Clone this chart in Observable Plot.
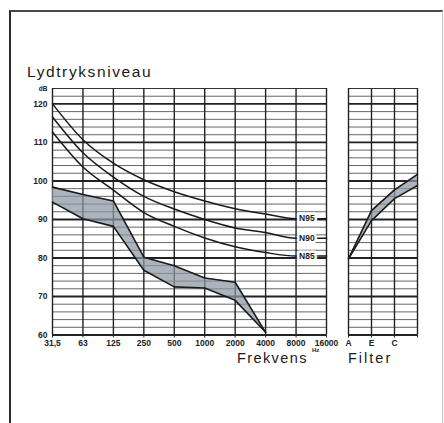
<!DOCTYPE html>
<html>
<head>
<meta charset="utf-8">
<script src="https://cdn.jsdelivr.net/npm/d3@7"></script>
<script src="https://cdn.jsdelivr.net/npm/@observablehq/plot@0.6"></script>
<style>
  html, body { margin: 0; padding: 0; background: #fff; }
  #wrap { position: relative; width: 444px; height: 423px; overflow: hidden; background: #fff;
          font-family: "Liberation Sans", Arial, Helvetica, sans-serif; color: #1a1a1a; }
  #wrap svg { position: absolute; left: 0; top: 0; background: transparent; }
  .frame { position: absolute; left: 9px; top: 10px; width: 431px; height: 430px;
           border-left: 2px solid #2b2b2b; border-top: 2px solid #4a4a4a; border-right: 1px solid #c8c8c8; }
  .lbl { position: absolute; white-space: nowrap; line-height: 1; }
</style>
</head>
<body>
<div id="wrap">
  <div class="frame"></div>
  <div class="lbl" id="title" style="left:27px; top:64px; font-size:15.5px; letter-spacing:1.6px;">Lydtryksniveau</div>
  <div class="lbl" id="xlab" style="left:237px; top:351px; font-size:14.5px; letter-spacing:1.4px;">Frekvens</div>
  <div class="lbl" id="hz" style="left:312px; top:347px; font-size:6px; font-weight:bold;">Hz</div>
  <div class="lbl" id="flab" style="left:348px; top:351px; font-size:14.5px; letter-spacing:2px;">Filter</div>
</div>
<script>
// ---- data ----
const freqLabels = ["31,5", "63", "125", "250", "500", "1000", "2000", "4000", "8000", "16000"];
const filterLabels = ["A", "E", "C", ""];
const yTicks = [60, 70, 80, 90, 100, 110, 120];

// noise-rating curves, values at 31,5 ... 8000 Hz
const n95 = [120.0, 110.7, 104.6, 100.3, 97.2, 94.8, 92.8, 91.4, 90.2];
const n90 = [116.6, 107.3, 101.0, 96.0, 92.7, 90.0, 87.8, 86.6, 85.1];
const n85 = [112.7, 103.6, 97.6, 91.8, 88.2, 85.2, 82.9, 81.4, 80.5];
const curveNames = ["N95", "N90", "N85"];

// measured band, 31,5 ... 4000 Hz
const bandUpper = [98.4, 96.5, 94.8, 80.2, 78.0, 74.8, 73.7, 60.7];
const bandLower = [94.5, 90.2, 88.2, 76.8, 72.5, 72.2, 69.0, 60.7];

// filter band at A, E, C and right edge
const filterUpper = [79.8, 92.3, 97.7, 101.7];
const filterLower = [79.8, 89.7, 95.4, 98.8];

// ---- build tables ----
const gridY = d3.range(60, 125, 2);
const band = bandUpper.map((hi, i) => ({i, hi, lo: bandLower[i]}));
const fband = filterUpper.map((hi, i) => ({i, hi, lo: filterLower[i]}));
const curves = [n95, n90, n85].map((vals, k) => ({
  name: curveNames[k],
  pts: [...vals.map((v, i) => ({i, v})), {i: freqLabels.length - 1, v: vals[vals.length - 1]}],
  last: vals[vals.length - 1],
  lastI: vals.length - 1
}));

const font = "'Liberation Sans', Arial, Helvetica, sans-serif";
const W = 444, H = 423;
const yScale = {domain: [60, 124], axis: null};
const common = {width: W, height: H, marginTop: 88, marginBottom: 88.5,
  style: {background: "transparent", fontFamily: font, overflow: "visible"}};

const gridMarks = [
  Plot.ruleY(gridY.filter(d => d % 10 !== 0 && d !== 124), {y: d => d, stroke: "#555", strokeWidth: 0.9}),
  Plot.ruleY(gridY.filter(d => d === 124), {y: d => d, stroke: "#333", strokeWidth: 1.2}),
  Plot.ruleY(gridY.filter(d => d % 10 === 0), {y: d => d, stroke: "#222", strokeWidth: 1.9}),
];

const main = Plot.plot({
  ...common,
  marginLeft: 52, marginRight: 118,
  x: {domain: [0, freqLabels.length - 1], axis: null},
  y: yScale,
  marks: [
    ...gridMarks,
    Plot.ruleX(d3.range(freqLabels.length), {x: d => d, stroke: "#222", strokeWidth: 1.4}),
    Plot.areaY(band, {x: "i", y1: "lo", y2: "hi", fill: "#8a96a2", fillOpacity: 0.72}),
    Plot.line(band, {x: "i", y: "hi", stroke: "#1a1a1a", strokeWidth: 1.6}),
    Plot.line(band, {x: "i", y: "lo", stroke: "#1a1a1a", strokeWidth: 1.6}),
    ...curves.map(c => Plot.line(c.pts, {x: "i", y: "v", stroke: "#1a1a1a", strokeWidth: 1.5, curve: "monotone-x"})),
    Plot.text(curves, {x: "lastI", y: "last", text: "name", textAnchor: "start", dx: 3,
      fontSize: 8.5, fontWeight: "bold", fill: "#222", stroke: "white", strokeWidth: 5}),
    Plot.axisX({ticks: d3.range(freqLabels.length), tickFormat: i => freqLabels[i], tickSize: 3,
      tickPadding: 2, fontSize: 8.5, fontWeight: "bold", stroke: "#222", fill: "#222", label: null}),
    Plot.axisY({ticks: yTicks, tickSize: 0, tickPadding: 5, fontSize: 8.5, fontWeight: "bold", fill: "#222", label: null}),
    Plot.text(["dB"], {x: 0, y: 124, dx: -5, dy: 0, textAnchor: "end", fontSize: 6.5, fontWeight: "bold", fill: "#222"})
  ]
});

const filt = Plot.plot({
  ...common,
  marginLeft: 348, marginRight: 27,
  x: {domain: [0, filterLabels.length - 1], axis: null},
  y: yScale,
  marks: [
    ...gridMarks,
    Plot.ruleX(d3.range(filterLabels.length), {x: d => d, stroke: "#222", strokeWidth: 1.4}),
    Plot.areaY(fband, {x: "i", y1: "lo", y2: "hi", fill: "#8a96a2", fillOpacity: 0.72}),
    Plot.line(fband, {x: "i", y: "hi", stroke: "#1a1a1a", strokeWidth: 1.6}),
    Plot.line(fband, {x: "i", y: "lo", stroke: "#1a1a1a", strokeWidth: 1.6}),
    Plot.axisX({ticks: d3.range(filterLabels.length), tickFormat: i => filterLabels[i], tickSize: 3,
      tickPadding: 2, fontSize: 8.5, fontWeight: "bold", stroke: "#222", fill: "#222", label: null})
  ]
});

const wrap = document.getElementById("wrap");
wrap.appendChild(main);
wrap.appendChild(filt);
</script>
</body>
</html>
